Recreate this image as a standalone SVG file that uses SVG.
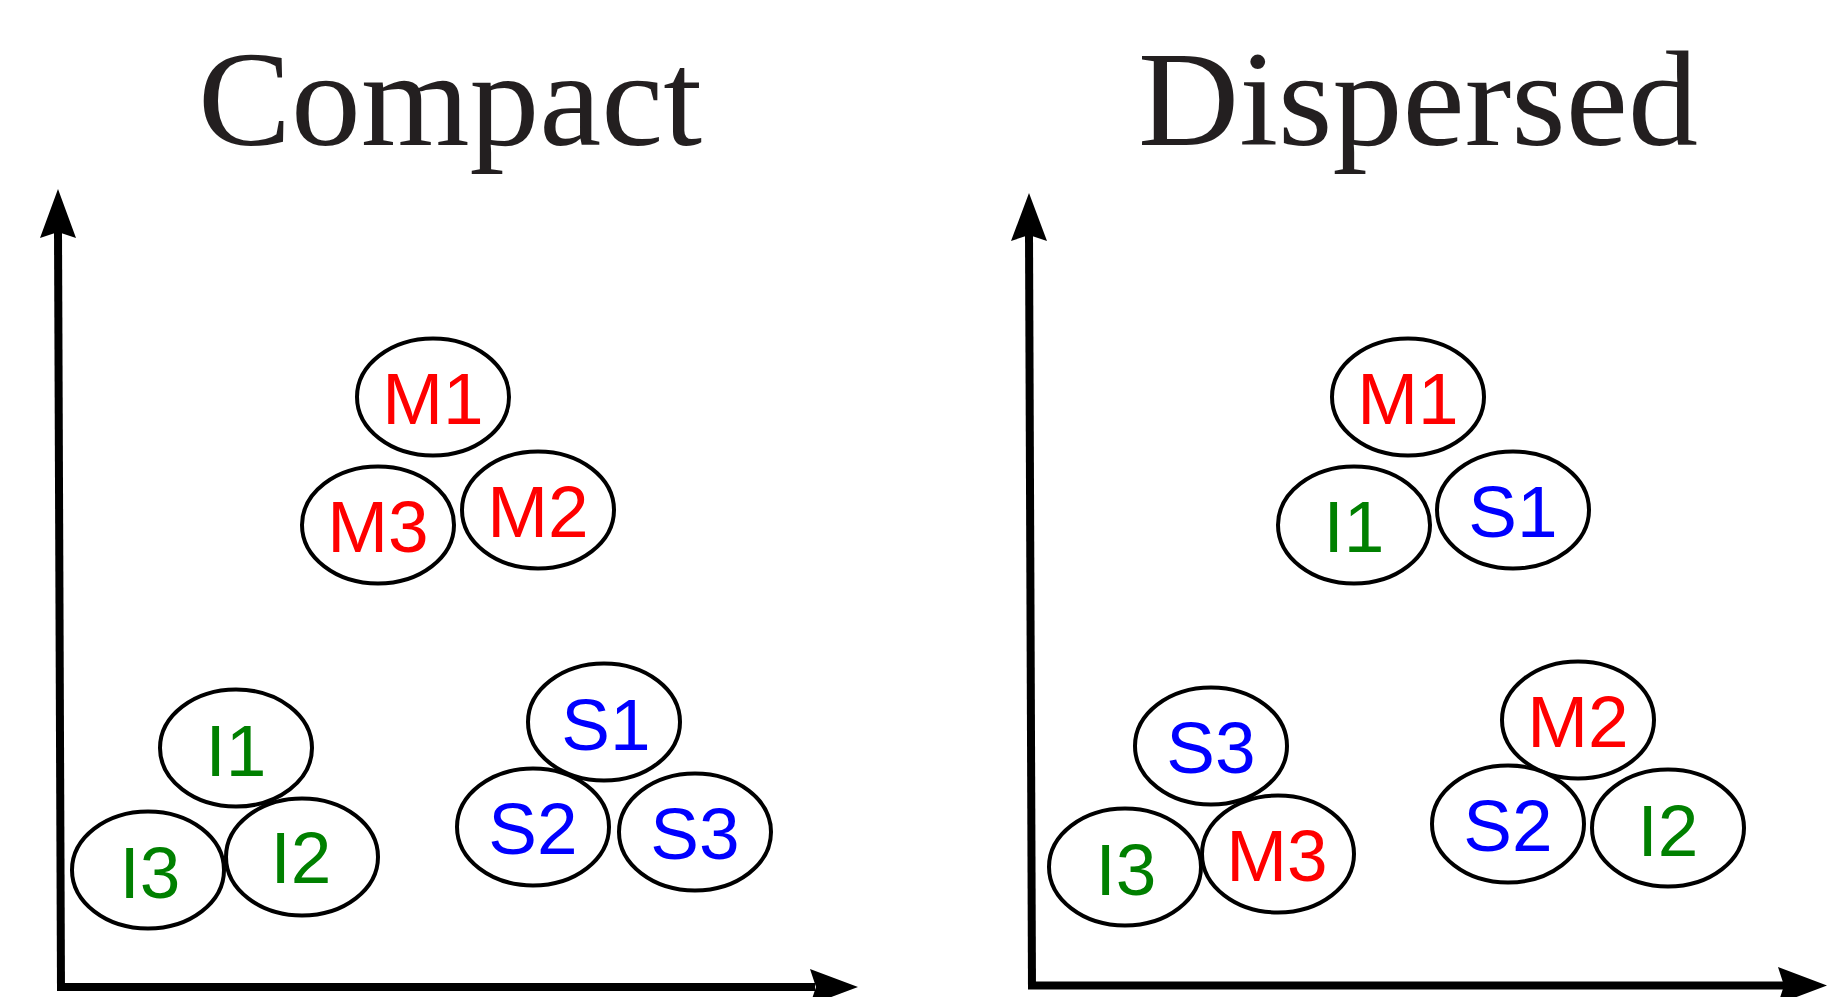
<svg xmlns="http://www.w3.org/2000/svg" width="1827" height="997" viewBox="0 0 1827 997">
<style>
.title{font-family:"Liberation Serif","Times New Roman",serif;font-size:135px;fill:#231f20;text-anchor:middle}
.node ellipse{fill:#ffffff;stroke:#000000;stroke-width:4}
.node text{font-family:"Liberation Sans",Arial,sans-serif;font-size:73px;text-anchor:middle}
.m{fill:#ff0000}.s{fill:#0000ff}.i{fill:#008000}
.axis line{stroke:#000000;stroke-width:8}
.axis polygon{fill:#000000}
</style>
<rect width="1827" height="997" fill="#ffffff"/>
<text class="title" x="450" y="145" textLength="504" lengthAdjust="spacingAndGlyphs">Compact</text>
<text class="title" x="1418" y="145" textLength="560" lengthAdjust="spacingAndGlyphs">Dispersed</text>
<g id="connectors" class="axis">
<line x1="61" y1="991" x2="58" y2="230"/>
<polygon points="58,189 76,238 58,232 40,238"/>
<line x1="57" y1="987" x2="815" y2="987"/>
<polygon points="858,987 810,969 816,987 810,1005"/>
<line x1="1032" y1="989" x2="1029" y2="234"/>
<polygon points="1029,193 1047,241 1029,235 1011,241"/>
<line x1="1028" y1="985.5" x2="1785" y2="985.5"/>
<polygon points="1827,985.5 1778,967 1784,985.5 1778,1004"/>
</g>
<g id="c-M1" class="node"><ellipse cx="433" cy="397" rx="76" ry="58.5"/><text class="m" x="433" y="424">M1</text></g>
<g id="c-M3" class="node"><ellipse cx="378" cy="525" rx="76" ry="58.5"/><text class="m" x="378" y="552">M3</text></g>
<g id="c-M2" class="node"><ellipse cx="538" cy="510" rx="76" ry="58.5"/><text class="m" x="538" y="537">M2</text></g>
<g id="c-I1" class="node"><ellipse cx="236" cy="748" rx="76" ry="58.5"/><text class="i" x="236" y="776">I1</text></g>
<g id="c-I3" class="node"><ellipse cx="148" cy="870" rx="76" ry="58.5"/><text class="i" x="150" y="898">I3</text></g>
<g id="c-I2" class="node"><ellipse cx="302" cy="857" rx="76" ry="58.5"/><text class="i" x="301" y="883">I2</text></g>
<g id="c-S1" class="node"><ellipse cx="604" cy="722" rx="76" ry="58.5"/><text class="s" x="606" y="750">S1</text></g>
<g id="c-S2" class="node"><ellipse cx="533" cy="827" rx="76" ry="58.5"/><text class="s" x="533" y="854">S2</text></g>
<g id="c-S3" class="node"><ellipse cx="695" cy="832" rx="76" ry="58.5"/><text class="s" x="695" y="859">S3</text></g>
<g id="d-M1" class="node"><ellipse cx="1408" cy="397" rx="76" ry="58.5"/><text class="m" x="1408" y="424">M1</text></g>
<g id="d-I1" class="node"><ellipse cx="1354" cy="525" rx="76" ry="58.5"/><text class="i" x="1354" y="552">I1</text></g>
<g id="d-S1" class="node"><ellipse cx="1513" cy="510" rx="76" ry="58.5"/><text class="s" x="1513" y="537">S1</text></g>
<g id="d-S3" class="node"><ellipse cx="1211" cy="746" rx="76" ry="58.5"/><text class="s" x="1211" y="773">S3</text></g>
<g id="d-I3" class="node"><ellipse cx="1125" cy="867" rx="76" ry="58.5"/><text class="i" x="1126" y="895">I3</text></g>
<g id="d-M3" class="node"><ellipse cx="1278" cy="854" rx="76" ry="58.5"/><text class="m" x="1277" y="881">M3</text></g>
<g id="d-M2" class="node"><ellipse cx="1578" cy="720" rx="76" ry="58.5"/><text class="m" x="1578" y="747">M2</text></g>
<g id="d-S2" class="node"><ellipse cx="1508" cy="824" rx="76" ry="58.5"/><text class="s" x="1508" y="851">S2</text></g>
<g id="d-I2" class="node"><ellipse cx="1668" cy="828" rx="76" ry="58.5"/><text class="i" x="1668" y="856">I2</text></g>
</svg>
